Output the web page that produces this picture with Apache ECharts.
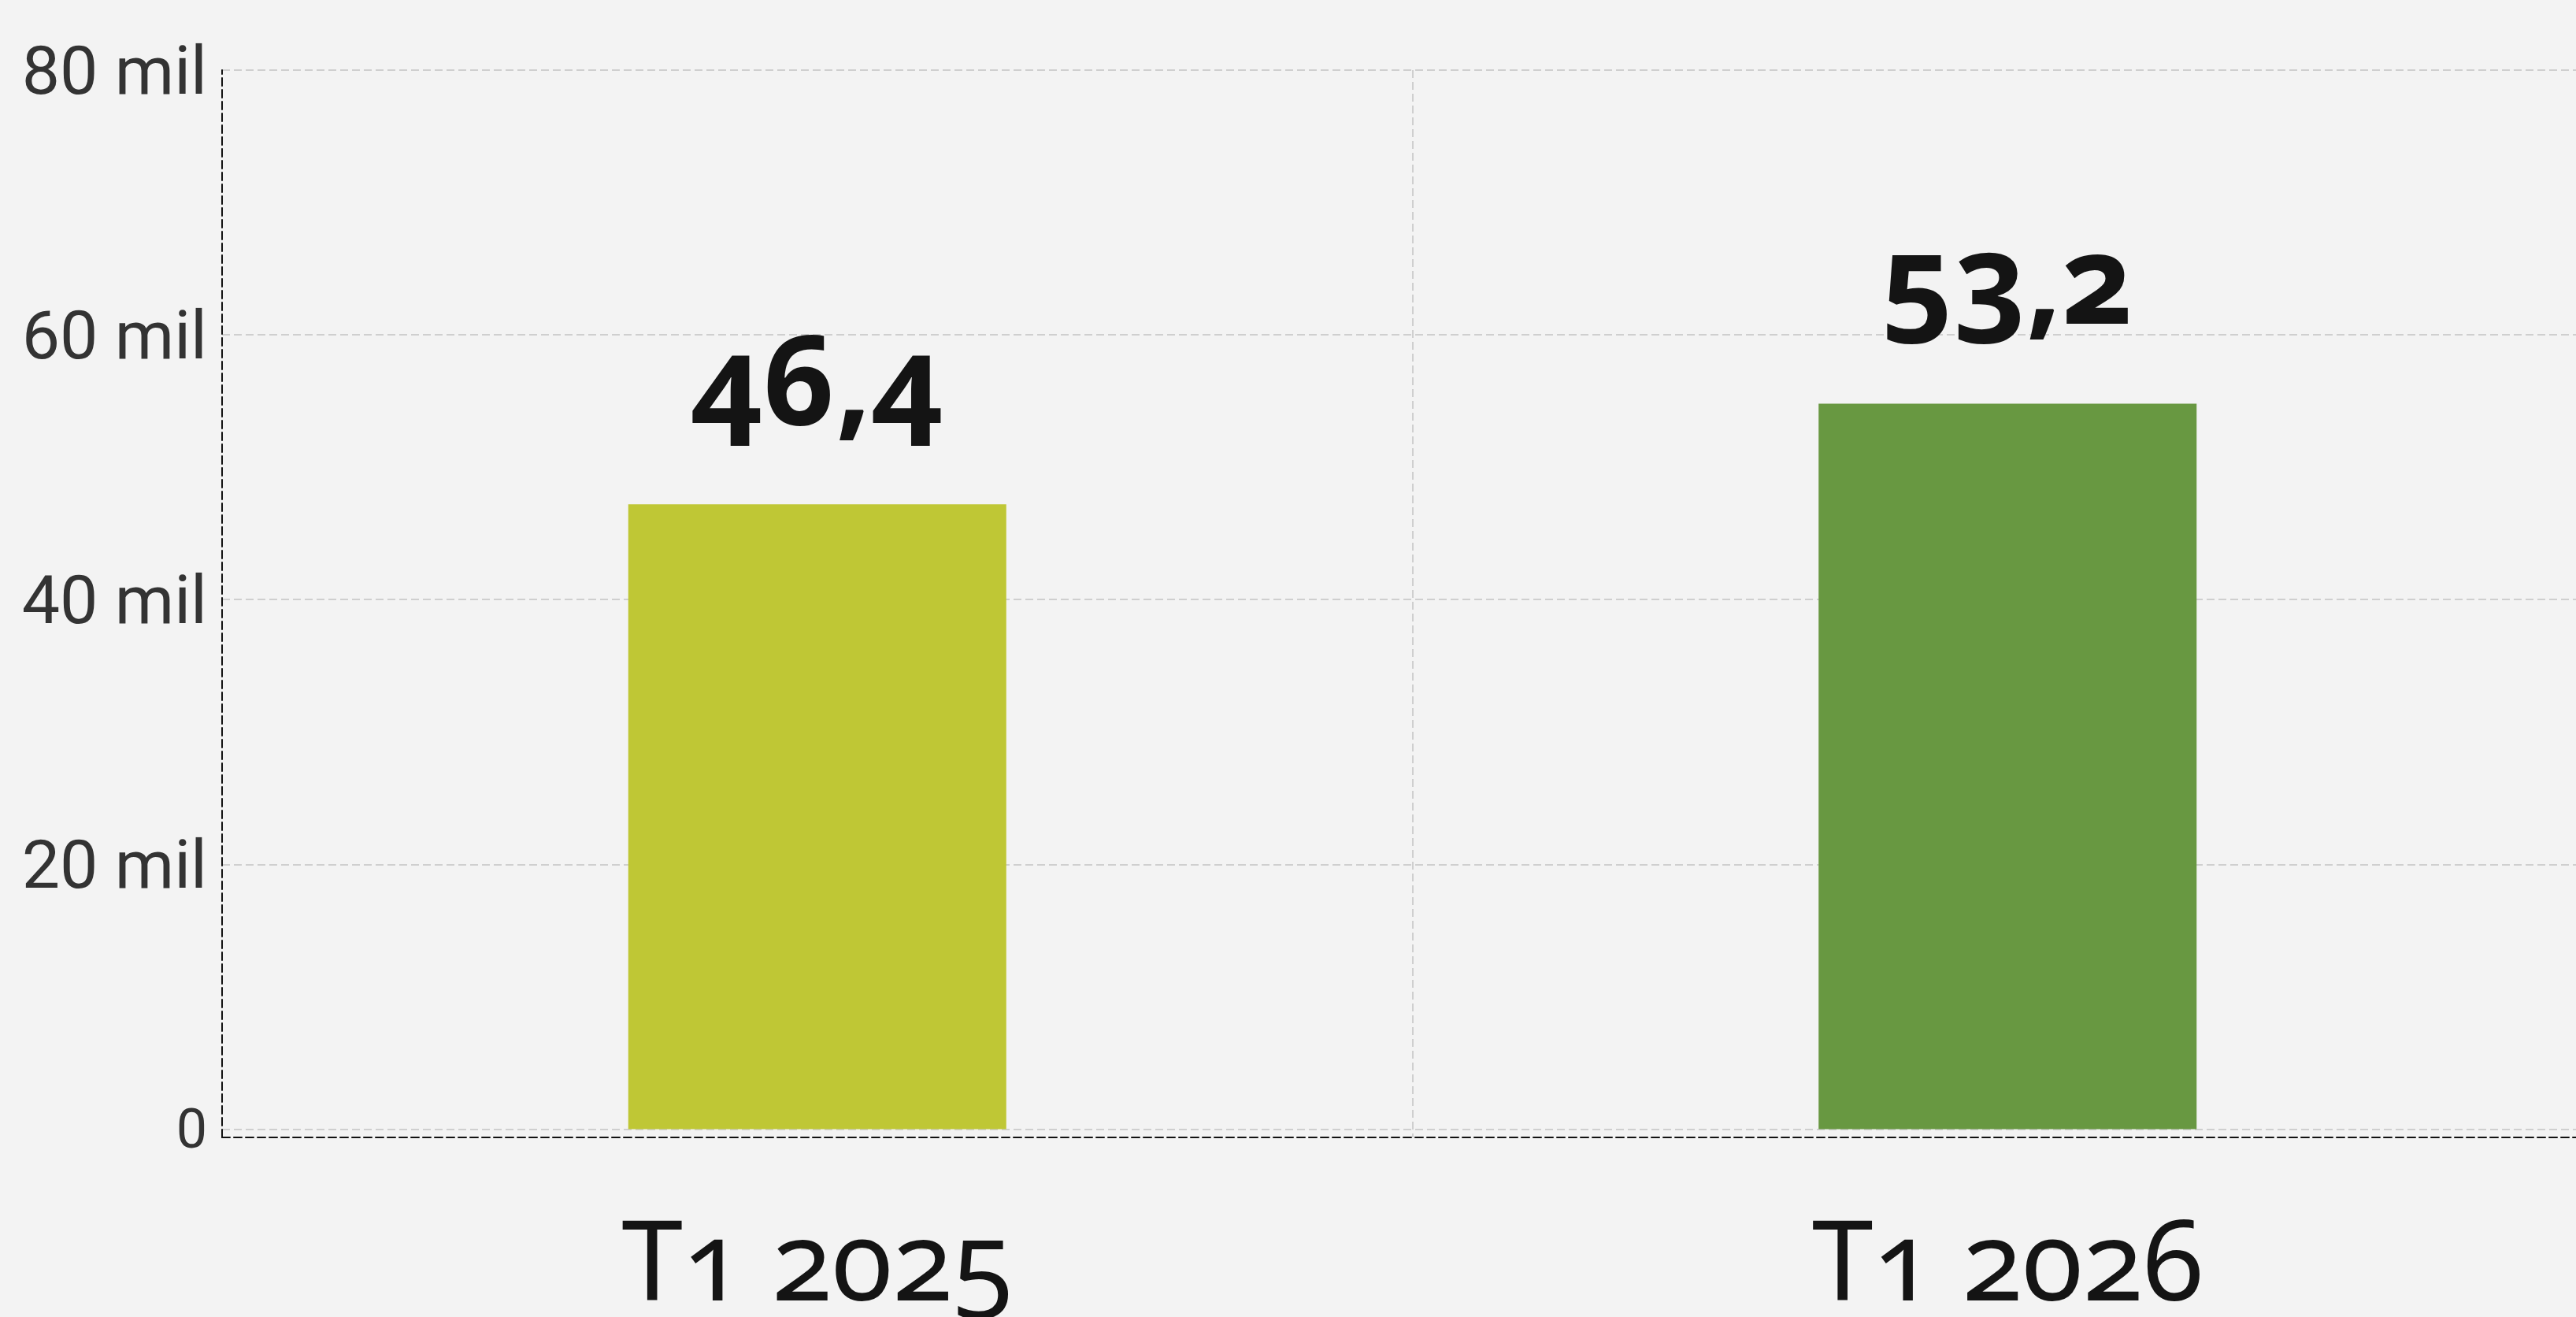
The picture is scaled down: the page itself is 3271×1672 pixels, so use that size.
<!DOCTYPE html>
<html>
<head>
<meta charset="utf-8">
<script src="https://cdn.jsdelivr.net/npm/echarts@6/dist/echarts.min.js"></script>
<style>
html,body{margin:0;padding:0;background:#f3f3f3;}
#c{width:3271px;height:1672px;}
#c svg text[style*="Noto"]{font-variant-numeric: oldstyle-nums !important; font-feature-settings: "onum" 1 !important;}
</style>
</head>
<body>
<div id="c"></div>
<script>
// Data
const categories = ['T1 2025', 'T1 2026'];
const values = [47200, 54800];
const valueLabels = ['46,4', '53,2'];
const barColors = ['#bfc735', '#689841'];
const yTicks = [0, 20000, 40000, 60000, 80000];
const yTickLabels = ['0', '20 mil', '40 mil', '60 mil', '80 mil'];

const chart = echarts.init(document.getElementById('c'), null, {renderer: 'svg'});

chart.setOption({
  backgroundColor: '#f3f3f3',
  animation: false,
  grid: {left: 282, right: -34, top: 89, bottom: 228, containLabel: false, outerBoundsMode: 'none'},
  xAxis: {
    type: 'category',
    data: categories,
    boundaryGap: true,
    axisLine: {onZero: false, lineStyle: {color: '#111', width: 2, type: [10, 5]}},
    axisTick: {show: false},
    axisLabel: {
      margin: 82,
      fontFamily: 'Noto Sans',
      fontSize: 140,
      color: '#141414'
    },
    splitLine: {show: true, showMinLine: false, lineStyle: {color: '#cfcfcf', width: 2, type: [10, 5]}}
  },
  yAxis: {
    type: 'value',
    min: -625,
    max: 80000,
    axisLine: {show: true, lineStyle: {color: '#111', width: 2, type: [10, 5]}},
    axisTick: {show: false},
    axisLabel: {
      showMinLabel: false,
      margin: 19,
      fontFamily: 'Roboto',
      fontSize: 86,
      color: '#333',
      formatter: function (v) {
        const i = yTicks.indexOf(v);
        if (i < 0) return '';
        return v === 0 ? '{z|' + yTickLabels[i] + '}' : yTickLabels[i];
      },
      rich: {z: {fontFamily: 'Roboto', fontSize: 70, color: '#333'}}
    },
    splitLine: {show: true, showMinLine: false, lineStyle: {color: '#cfcfcf', width: 2, type: [10, 5]}}
  },
  series: [{
    type: 'bar',
    barWidth: 480,
    data: values.map(function (v, i) { return {value: v, itemStyle: {color: barColors[i]}}; }),
    label: {
      show: true,
      position: 'top',
      distance: 84,
      fontFamily: 'Noto Sans',
      fontWeight: 'bold',
      fontSize: 158,
      color: '#141414',
      formatter: function (p) { return valueLabels[p.dataIndex]; }
    }
  }]
});
</script>
</body>
</html>
